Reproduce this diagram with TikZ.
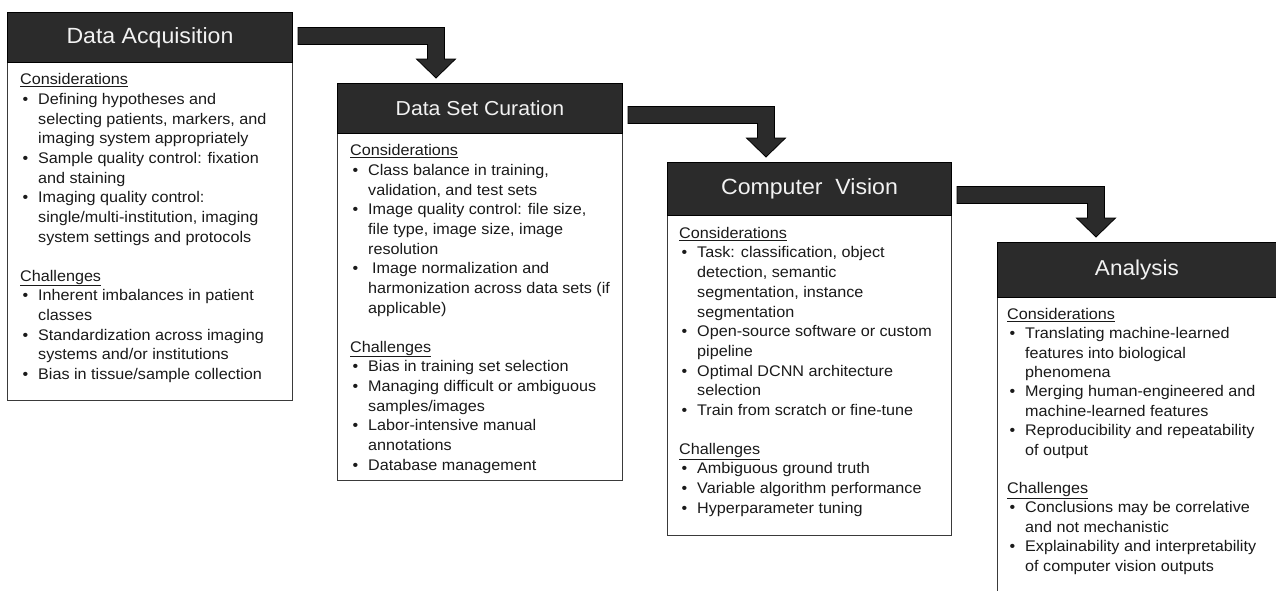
\documentclass[tikz,border=0pt]{standalone}
\usepackage{fontspec}
\setmainfont[FakeStretch=1.05]{Liberation Sans}
\usetikzlibrary{calc}
\definecolor{hdr}{HTML}{2B2B2B}
\definecolor{framec}{HTML}{3A3A3A}
\definecolor{ttl}{HTML}{F2F2F2}
\definecolor{bodytext}{HTML}{1A1A1A}

\newcommand\bul{\makebox[18pt][l]{\hspace{2.5pt}•}}
\newcommand\ind{\hspace*{18pt}}
\newcommand\sect[1]{\rule{0pt}{12pt}\underline{#1}}
\newcommand\flowconn[3]{%
  \coordinate (s) at ($(#1.east)+(5,#3)$);
  \coordinate (t) at ($(#2.north west)+(99,-5)$);
  \coordinate (c) at (s -| t);
  \draw[flowarrow] ($(s)+(0,-8.5)$) -- ($(c)+(8.5,-8.5)$) -- ($(t)+(8.5,-19)$)
    -- ($(t)+(19.5,-19)$) -- (t) -- ($(t)+(-19.5,-19)$) -- ($(t)+(-8.5,-19)$)
    -- ($(c)+(-8.5,8.5)$) -- ($(s)+(0,8.5)$) -- cycle;
}

\begin{document}
\begin{tikzpicture}[x=1pt,y=-1pt,
  boxbody/.style={draw=framec, line width=1.2pt, fill=white, anchor=north west, inner sep=0pt},
  boxhead/.style={draw=black, line width=1pt, fill=hdr, anchor=north west, inner sep=0pt, text=ttl},
  boxtext/.style={anchor=north west, inner sep=0pt, align=left, text=bodytext, font=\fontsize{15.4}{19.7}\selectfont},
  flowarrow/.style={fill=hdr, draw=black, line width=0.8pt, line join=miter}]

\clip (0,0) rectangle (1276,590);
\fill[white] (0,0) rectangle (1276,590);

% ---------- Box 1 ----------
\node[boxbody, minimum width=285pt, minimum height=388pt] (b1) at (7,12) {};
\node[boxhead, minimum width=285pt, minimum height=50pt, font=\fontsize{22}{26}\selectfont] (h1) at (b1.north west) {Data Acquisition};
\node[boxtext] (t1) at ($(h1.south west)+(13,9.5)$) {%
\sect{Considerations}\\
\bul Defining hypotheses and\\
\ind selecting patients, markers, and\\
\ind imaging system appropriately\\
\bul Sample quality control: fixation\\
\ind and staining\\
\bul Imaging quality control:\\
\ind single/multi-institution, imaging\\
\ind system settings and protocols\\[19pt]
\sect{Challenges}\\
\bul Inherent imbalances in patient\\
\ind classes\\
\bul Standardization across imaging\\
\ind systems and/or institutions\\
\bul Bias in tissue/sample collection};

% ---------- Box 2 ----------
\node[boxbody, minimum width=285pt, minimum height=397pt] (b2) at (337,83) {};
\node[boxhead, minimum width=285pt, minimum height=50pt, font=\fontsize{20.2}{24}\selectfont] (h2) at (b2.north west) {Data Set Curation};
\node[boxtext] (t2) at ($(h2.south west)+(13,9.5)$) {%
\sect{Considerations}\\
\bul Class balance in training,\\
\ind validation, and test sets\\
\bul Image quality control: file size,\\
\ind file type, image size, image\\
\ind resolution\\
\bul\hspace{4pt}Image normalization and\\
\ind harmonization across data sets (if\\
\ind applicable)\\[19pt]
\sect{Challenges}\\
\bul Bias in training set selection\\
\bul Managing difficult or ambiguous\\
\ind samples/images\\
\bul Labor-intensive manual\\
\ind annotations\\
\bul Database management};

% ---------- Box 3 ----------
\node[boxbody, minimum width=284pt, minimum height=373pt] (b3) at (667,162) {};
\node[boxhead, minimum width=284pt, minimum height=53pt, font=\fontsize{22}{26}\selectfont] (h3) at (b3.north west) {Computer\ \ Vision};
\node[boxtext] (t3) at ($(h3.south west)+(12,10)$) {%
\sect{Considerations}\\
\bul Task: classification, object\\
\ind detection, semantic\\
\ind segmentation, instance\\
\ind segmentation\\
\bul Open-source software or custom\\
\ind pipeline\\
\bul Optimal DCNN architecture\\
\ind selection\\
\bul Train from scratch or fine-tune\\[19pt]
\sect{Challenges}\\
\bul Ambiguous ground truth\\
\bul Variable algorithm performance\\
\bul Hyperparameter tuning};

% ---------- Box 4 ----------
\node[boxbody, minimum width=300pt, minimum height=380pt] (b4) at (997,242) {};
\node[boxhead, minimum width=300pt, minimum height=55pt] (h4) at (b4.north west) {};
\node[text=ttl, font=\fontsize{21.5}{26}\selectfont, inner sep=0pt] (h4t) at ($(h4.west)+(140,0)$) {Analysis};
\node[boxtext, font=\fontsize{15.4}{19.4}\selectfont] (t4) at ($(h4.south west)+(10,9)$) {%
\sect{Considerations}\\
\bul Translating machine-learned\\
\ind features into biological\\
\ind phenomena\\
\bul Merging human-engineered and\\
\ind machine-learned features\\
\bul Reproducibility and repeatability\\
\ind of output\\[19pt]
\sect{Challenges}\\
\bul Conclusions may be correlative\\
\ind and not mechanistic\\
\bul Explainability and interpretability\\
\ind of computer vision outputs};

% ---------- Connectors ----------
\flowconn{h1}{b2}{-1.5}
\flowconn{h2}{b3}{6.5}
\flowconn{h3}{b4}{6}
\end{tikzpicture}
\end{document}
